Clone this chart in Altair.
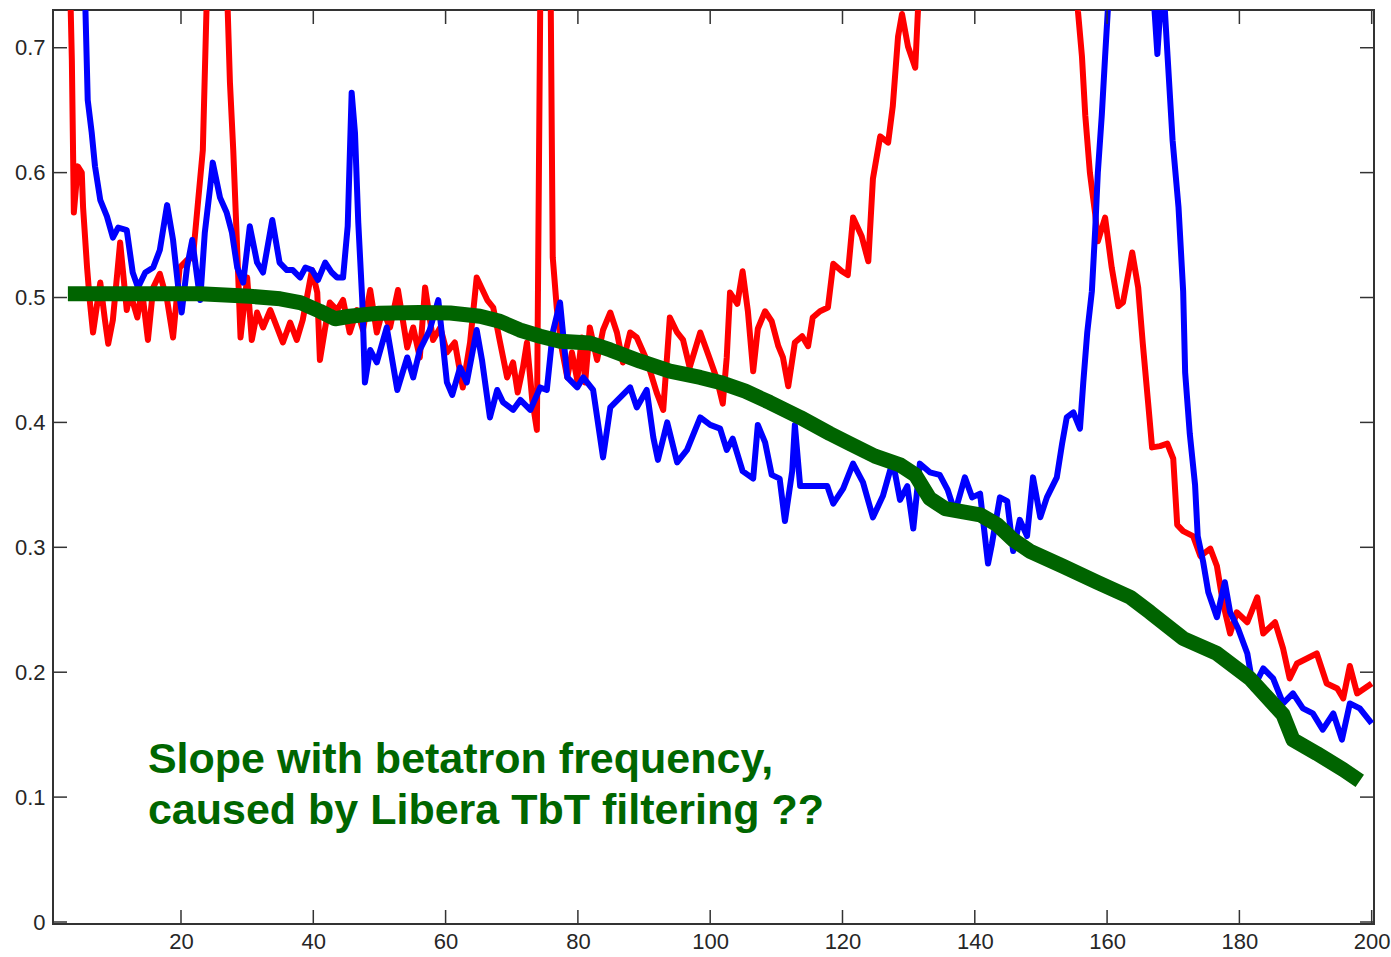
import altair as alt
import pandas as pd

# ---------------- data ----------------
RED_X = [3.2, 3.5, 3.7, 3.8, 4.4, 5.0, 5.2, 5.8, 6.2, 6.7, 7.8, 8.5, 9.0, 9.7, 10.8, 11.8, 12.3, 13.4, 14.1, 15.0,
         15.8, 16.8, 17.9, 18.8, 19.8, 20.9, 21.8, 22.6, 23.3, 23.9, 25.5, 27.0, 27.4, 27.9, 28.2, 28.6, 29.0, 30.0,
         30.7, 31.5, 32.4, 33.5, 35.4, 36.5, 37.5, 38.4, 39.8, 40.6, 41.0, 41.8, 42.5, 43.6, 44.5, 45.5, 46.6, 47.5,
         48.6, 49.6, 50.5, 51.6, 52.8, 54.2, 55.1, 56.1, 56.9, 58.1, 59.2, 60.2, 61.4, 62.6, 63.7, 64.7, 66.3, 67.2,
         68.2, 69.3, 70.2, 70.9, 71.7, 72.3, 73.1, 73.8, 74.7, 75.5, 76.2, 76.8, 77.6, 78.4, 79.1, 79.9, 80.6, 81.1,
         81.8, 82.9, 83.8, 84.9, 85.9, 86.8, 87.9, 88.9, 90.4, 91.9, 92.9, 93.9, 95.0, 95.9, 96.9, 98.5, 100.0, 101.0,
         101.9, 102.5, 103.0, 104.1, 104.9, 105.7, 106.5, 107.2, 108.3, 109.3, 110.3, 111.0, 111.8, 112.8, 113.9,
         114.8, 115.5, 116.6, 117.8, 118.6, 119.9, 120.8, 121.6, 122.9, 123.9, 124.6, 125.7, 126.9, 127.6, 128.4,
         129.0, 129.9, 131.0, 131.5, 133.0, 140.0, 148.0, 155.0, 155.6, 156.2, 156.7, 157.4, 158.2, 158.6, 159.7,
         160.7, 161.7, 162.4, 163.8, 164.7, 165.4, 166.2, 166.8, 168.0, 169.1, 170.0, 170.6, 171.5, 173.0, 174.1,
         175.6, 176.6, 177.5, 178.6, 179.6, 181.2, 182.7, 183.6, 185.4, 186.6, 187.6, 188.7, 190.2, 191.7, 193.2,
         194.8, 195.7, 196.7, 197.8, 200.0]
RED_Y = [0.76, 0.69, 0.61, 0.568, 0.605, 0.600, 0.572, 0.524, 0.498, 0.472, 0.512, 0.482, 0.463, 0.482, 0.544, 0.490,
         0.504, 0.484, 0.506, 0.466, 0.508, 0.519, 0.498, 0.468, 0.524, 0.530, 0.532, 0.578, 0.618, 0.74, 1.00, 0.74,
         0.672, 0.618, 0.578, 0.524, 0.468, 0.516, 0.466, 0.488, 0.476, 0.490, 0.464, 0.480, 0.466, 0.482, 0.522,
         0.504, 0.450, 0.476, 0.496, 0.490, 0.498, 0.472, 0.490, 0.474, 0.506, 0.472, 0.490, 0.476, 0.506, 0.460,
         0.476, 0.452, 0.508, 0.466, 0.476, 0.456, 0.464, 0.428, 0.464, 0.516, 0.498, 0.492, 0.465, 0.436, 0.448,
         0.424, 0.444, 0.464, 0.418, 0.394, 1.00, 1.00, 0.532, 0.492, 0.458, 0.436, 0.456, 0.434, 0.468, 0.432, 0.476,
         0.450, 0.474, 0.488, 0.472, 0.448, 0.472, 0.468, 0.450, 0.424, 0.410, 0.484, 0.472, 0.466, 0.444, 0.472,
         0.450, 0.435, 0.415, 0.452, 0.504, 0.495, 0.521, 0.489, 0.441, 0.475, 0.489, 0.481, 0.461, 0.452, 0.429,
         0.464, 0.469, 0.461, 0.484, 0.489, 0.492, 0.527, 0.521, 0.518, 0.564, 0.549, 0.529, 0.595, 0.629, 0.624,
         0.653, 0.709, 0.727, 0.701, 0.684, 0.74, 0.85, 0.95, 0.95, 0.78, 0.729, 0.693, 0.646, 0.600, 0.567, 0.545,
         0.564, 0.524, 0.493, 0.496, 0.536, 0.508, 0.463, 0.416, 0.380, 0.381, 0.383, 0.371, 0.318, 0.313, 0.309,
         0.293, 0.299, 0.285, 0.256, 0.231, 0.248, 0.240, 0.260, 0.231, 0.240, 0.219, 0.195, 0.207, 0.211, 0.215,
         0.191, 0.187, 0.179, 0.205, 0.183, 0.191]

BLUE_X = [4.5, 5.9, 6.5, 7.0, 7.8, 8.8, 9.7, 10.5, 11.8, 12.7, 13.5, 14.6, 15.8, 16.8, 17.9, 18.8, 19.5, 20.1, 20.9,
          21.7, 22.9, 23.6, 24.4, 24.8, 25.9, 26.9, 27.7, 28.5, 29.4, 30.4, 31.5, 32.4, 33.8, 34.9, 36.0, 36.9, 38.0,
          38.8, 39.8, 40.7, 41.8, 42.8, 43.6, 44.5, 45.2, 45.8, 46.3, 46.8, 47.4, 47.8, 48.6, 49.6, 51.1, 52.7, 54.2,
          55.1, 56.1, 57.6, 58.9, 60.2, 61.0, 62.2, 63.2, 64.7, 65.5, 66.7, 67.8, 68.7, 70.2, 71.3, 72.8, 74.3, 75.3,
          76.2, 77.3, 78.4, 79.9, 80.8, 82.3, 83.8, 84.9, 86.4, 87.9, 88.9, 90.4, 91.4, 92.1, 93.5, 95.0, 96.5, 98.5,
          100.0, 101.5, 102.5, 103.4, 104.9, 106.5, 107.2, 108.3, 109.3, 110.5, 111.3, 112.4, 112.8, 113.6, 114.6,
          116.1, 117.7, 118.6, 120.1, 121.6, 123.1, 124.6, 126.1, 127.6, 128.7, 129.8, 130.7, 131.7, 133.2, 134.7,
          135.9, 137.0, 138.5, 139.6, 140.8, 142.0, 142.6, 143.8, 144.9, 145.8, 146.8, 147.9, 148.8, 149.9, 150.9,
          152.4, 153.2, 153.9, 154.9, 155.9, 156.4, 157.0, 157.7, 158.2, 158.6, 159.2, 159.7, 160.1, 161.5, 165.0,
          166.8, 167.6, 168.4, 169.1, 169.9, 170.5, 170.8, 171.5, 171.8, 172.5, 173.3, 173.7, 174.5, 175.3, 176.6,
          177.8, 178.6, 179.8, 181.2, 182.1, 183.6, 185.1, 186.6, 188.1, 189.6, 191.1, 192.6, 194.2, 195.5, 196.7,
          198.2, 200.0]
BLUE_Y = [0.95, 0.658, 0.632, 0.605, 0.578, 0.565, 0.548, 0.556, 0.554, 0.520, 0.508, 0.520, 0.524, 0.538, 0.574,
          0.546, 0.512, 0.488, 0.524, 0.546, 0.498, 0.552, 0.588, 0.608, 0.580, 0.568, 0.552, 0.524, 0.512, 0.557,
          0.528, 0.520, 0.562, 0.528, 0.522, 0.522, 0.516, 0.524, 0.522, 0.514, 0.528, 0.520, 0.516, 0.516, 0.557,
          0.664, 0.632, 0.560, 0.498, 0.432, 0.458, 0.448, 0.476, 0.426, 0.452, 0.436, 0.458, 0.474, 0.498, 0.432,
          0.422, 0.444, 0.432, 0.474, 0.450, 0.404, 0.426, 0.416, 0.410, 0.418, 0.410, 0.428, 0.426, 0.472, 0.496,
          0.436, 0.428, 0.436, 0.426, 0.372, 0.412, 0.420, 0.428, 0.412, 0.426, 0.388, 0.370, 0.400, 0.368, 0.378,
          0.404, 0.398, 0.395, 0.378, 0.387, 0.361, 0.355, 0.398, 0.384, 0.358, 0.355, 0.321, 0.361, 0.398, 0.349,
          0.349, 0.349, 0.349, 0.335, 0.347, 0.367, 0.352, 0.324, 0.341, 0.369, 0.338, 0.349, 0.315, 0.367, 0.360,
          0.358, 0.346, 0.328, 0.356, 0.340, 0.343, 0.287, 0.303, 0.340, 0.337, 0.297, 0.322, 0.309, 0.356, 0.324,
          0.340, 0.356, 0.383, 0.404, 0.408, 0.395, 0.432, 0.472, 0.505, 0.554, 0.600, 0.646, 0.693, 0.729, 0.85,
          0.90, 0.76, 0.695, 0.76, 0.697, 0.626, 0.590, 0.572, 0.505, 0.44, 0.391, 0.350, 0.309, 0.289, 0.264, 0.244,
          0.272, 0.248, 0.235, 0.215, 0.187, 0.203, 0.195, 0.175, 0.183, 0.171, 0.167, 0.154, 0.167, 0.146, 0.175,
          0.171, 0.159]

GREEN_X = [2.9, 7.8, 15.3, 22.9, 30.4, 35.0, 38.0, 41.0, 43.3, 45.5, 50.0, 56.0, 60.7, 65.2, 68.2, 71.2, 74.3, 77.3,
           81.8, 84.9, 89.4, 93.9, 98.5, 101.5, 105.3, 109.0, 113.6, 118.1, 121.1, 124.9, 128.7, 131.0, 133.2, 135.5,
           140.8, 143.4, 145.8, 148.3, 153.3, 158.5, 163.5, 166.5, 171.5, 176.6, 181.6, 186.6, 188.1, 191.7, 195.7,
           198.2]
GREEN_Y = [0.503, 0.503, 0.503, 0.503, 0.501, 0.499, 0.496, 0.489, 0.483, 0.485, 0.4875, 0.488, 0.4876, 0.485, 0.481,
           0.474, 0.469, 0.465, 0.4636, 0.458, 0.449, 0.441, 0.436, 0.432, 0.425, 0.416, 0.404, 0.391, 0.383, 0.373,
           0.366, 0.358, 0.339, 0.331, 0.326, 0.318, 0.306, 0.297, 0.285, 0.272, 0.260, 0.248, 0.227, 0.215, 0.195,
           0.166, 0.146, 0.135, 0.122, 0.113]

X_TICKS = [20, 40, 60, 80, 100, 120, 140, 160, 180, 200]
Y_TICKS = [0, 0.1, 0.2, 0.3, 0.4, 0.5, 0.6, 0.7]

NOTE_LINES = ["Slope with betatron frequency,", "caused by Libera TbT filtering ??"]
NOTE_X = [15.0, 15.0]
NOTE_Y = [0.1193, 0.0785]

# ---------------- chart ----------------
W, H = 1321, 914
AX = "#333333"
FONT = "Liberation Sans"

xs = alt.Scale(domain=[0.65, 200.35], nice=False, zero=False)
ys = alt.Scale(domain=[-0.0016, 0.7302], nice=False, zero=False)

xaxis = alt.Axis(values=X_TICKS, ticks=False, domain=False, grid=False, labelPadding=7,
                 labelFontSize=22, labelFont=FONT, labelColor="#262626", title=None, format="d")
yaxis = alt.Axis(values=Y_TICKS, ticks=False, domain=False, grid=False, labelPadding=8,
                 labelFontSize=22, labelFont=FONT, labelColor="#262626", title=None,
                 labelExpr="datum.value == 0 ? '0' : format(datum.value, '.1f')")

red = pd.DataFrame({"x": RED_X, "y": RED_Y})
blue = pd.DataFrame({"x": BLUE_X, "y": BLUE_Y})
green = pd.DataFrame({"x": GREEN_X, "y": GREEN_Y})
xt = pd.DataFrame({"t": X_TICKS})
yt = pd.DataFrame({"t": Y_TICKS})
note = pd.DataFrame({"x": NOTE_X, "y": NOTE_Y, "txt": NOTE_LINES})


def line(df, color, width):
    return alt.Chart(df).mark_line(color=color, strokeWidth=width, clip=True, strokeJoin="round").encode(
        x=alt.X("x:Q", scale=xs, axis=xaxis),
        y=alt.Y("y:Q", scale=ys, axis=yaxis),
    )


red_l = line(red, "#FF0000", 6)
blue_l = line(blue, "#0000FF", 6)
green_l = alt.Chart(green).mark_line(color="#006400", strokeWidth=15, clip=True, strokeJoin="round",
                                     strokeCap="butt").encode(
    x=alt.X("x:Q", scale=xs, axis=xaxis),
    y=alt.Y("y:Q", scale=ys, axis=yaxis),
)

TL = 14
tick_kw = dict(color=AX, strokeWidth=1.5)
bottom_t = alt.Chart(xt).mark_rule(**tick_kw).encode(
    x=alt.X("t:Q", scale=xs, axis=xaxis), y=alt.value(H), y2=alt.value(H - TL))
top_t = alt.Chart(xt).mark_rule(**tick_kw).encode(
    x=alt.X("t:Q", scale=xs, axis=xaxis), y=alt.value(0), y2=alt.value(TL))
left_t = alt.Chart(yt).mark_rule(**tick_kw).encode(
    y=alt.Y("t:Q", scale=ys, axis=yaxis), x=alt.value(0), x2=alt.value(TL))
right_t = alt.Chart(yt).mark_rule(**tick_kw).encode(
    y=alt.Y("t:Q", scale=ys, axis=yaxis), x=alt.value(W - TL), x2=alt.value(W))

text = alt.Chart(note).mark_text(align="left", baseline="alphabetic", fontSize=43, fontWeight="bold",
                                  font=FONT, color="#006600").encode(
    x=alt.X("x:Q", scale=xs, axis=xaxis),
    y=alt.Y("y:Q", scale=ys, axis=yaxis),
    text="txt:N",
)

chart = alt.layer(red_l, blue_l, green_l, bottom_t, top_t, left_t, right_t, text).properties(
    width=W, height=H,
    autosize=alt.AutoSizeParams(type="none"),
    padding={"left": 53, "top": 10, "right": 17, "bottom": 33},
    background="white",
).configure_view(stroke=AX, strokeWidth=2)

chart.save("out.html", embed_options={"renderer": "svg", "actions": False})
